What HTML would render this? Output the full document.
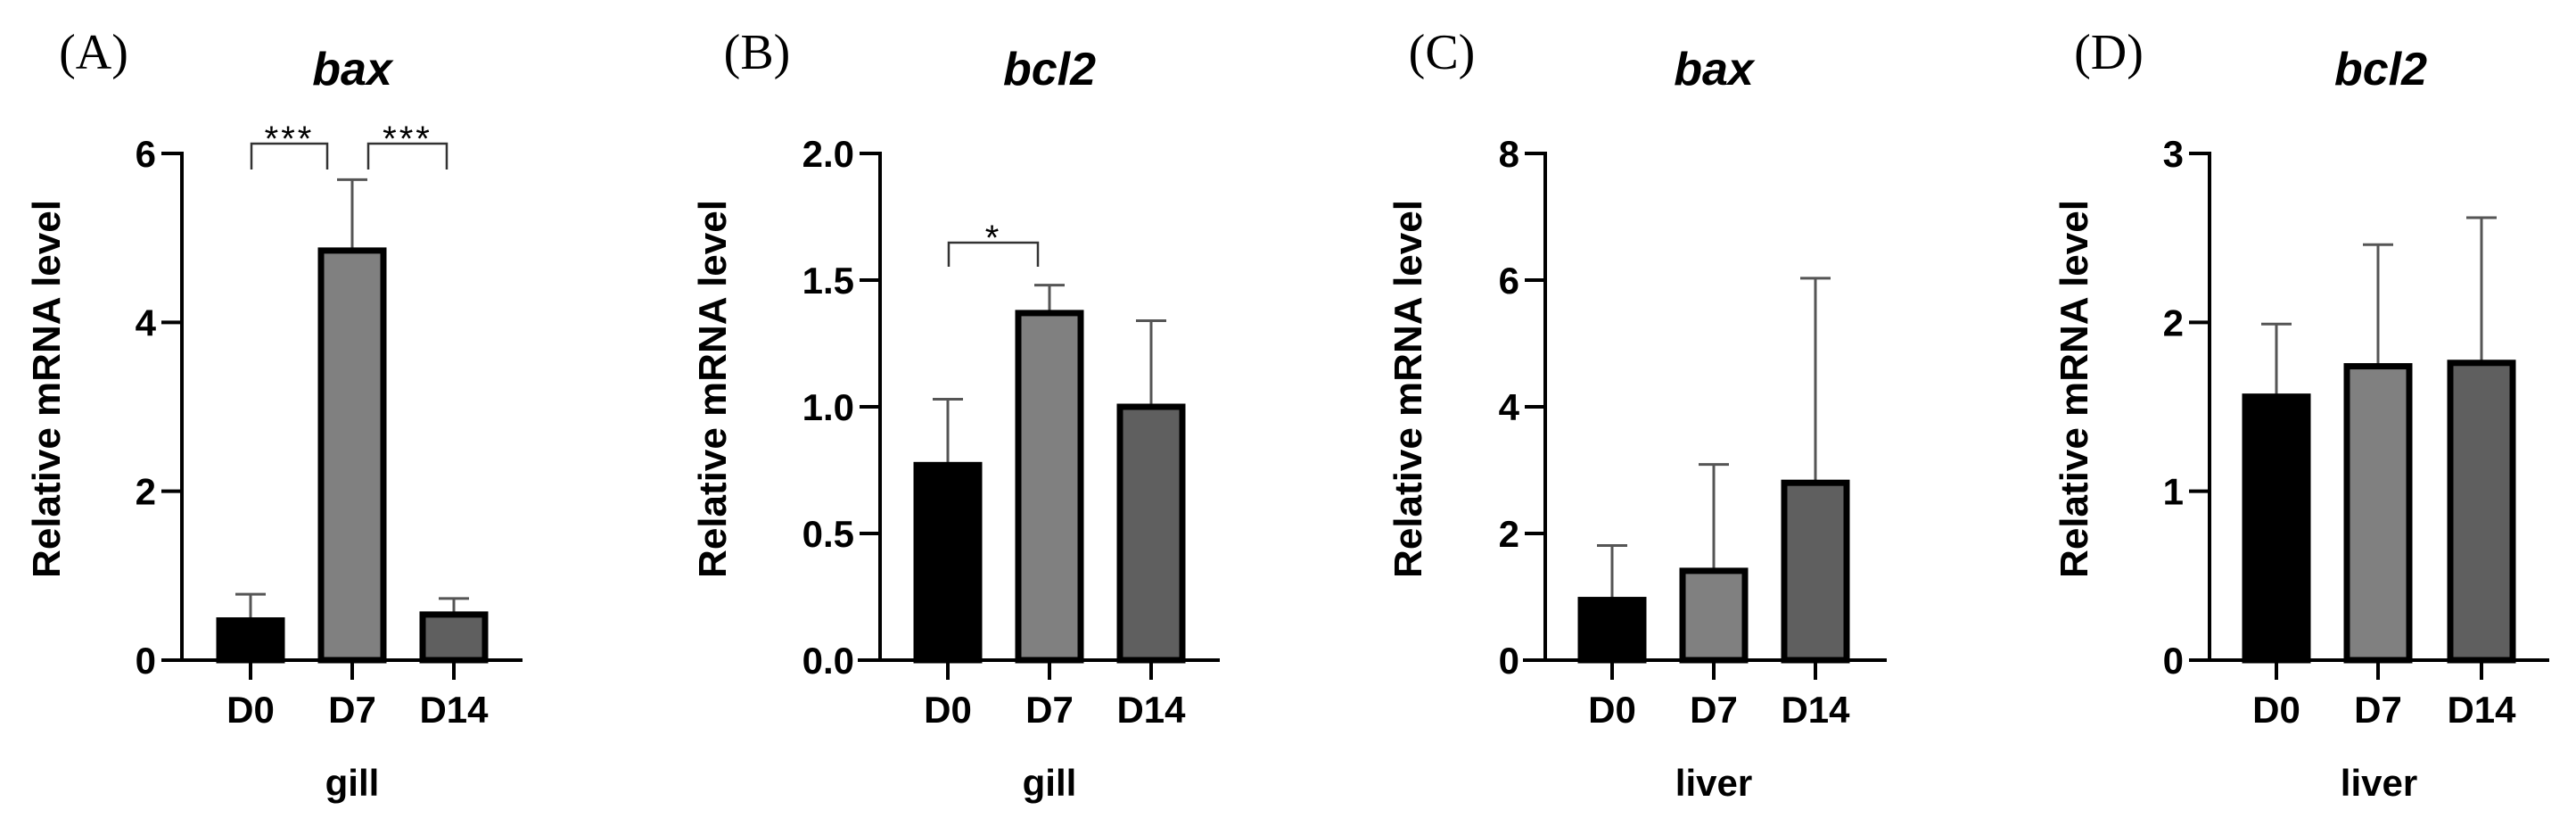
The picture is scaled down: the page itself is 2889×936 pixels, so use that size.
<!DOCTYPE html>
<html><head><meta charset="utf-8">
<style>
html,body{margin:0;padding:0;background:#fff;}
svg{display:block;}
text{font-family:"Liberation Sans",Arial,sans-serif;fill:#000;}
</style></head>
<body>
<svg id="fig" width="2889" height="936" xmlns="http://www.w3.org/2000/svg"></svg>
<script>
const categories = ["D0","D7","D14"];
const gillBaxMeans = [0.47, 4.85, 0.54];
const gillBaxErr = [0.78, 5.69, 0.73];
const gillBcl2Means = [0.77, 1.37, 1.00];
const gillBcl2Err = [1.03, 1.48, 1.34];
const liverBaxMeans = [0.95, 1.41, 2.80];
const liverBaxErr = [1.81, 3.09, 6.03];
const liverBcl2Means = [1.56, 1.74, 1.76];
const liverBcl2Err = [1.99, 2.46, 2.62];
const ticksA = [0,2,4,6];
const ticksB = ["0.0","0.5","1.0","1.5","2.0"];
const ticksC = [0,2,4,6,8];
const ticksD = [0,1,2,3];

const NS = "http://www.w3.org/2000/svg";
const svg = document.getElementById("fig");
const fills = ["#000000","#808080","#5f5f5f"];
function el(tag, attrs, parent){
  const e = document.createElementNS(NS, tag);
  for (const k in attrs) e.setAttribute(k, attrs[k]);
  (parent||svg).appendChild(e);
  return e;
}
function txt(str, x, y, size, opts, parent){
  const t = el("text", {x:x, y:y, "font-size":size,
    "text-anchor":opts.anchor||"middle", "font-weight":opts.weight||"bold"}, parent);
  if (opts.style) t.setAttribute("font-style", opts.style);
  if (opts.family) t.setAttribute("style", "font-family:" + opts.family);
  t.textContent = str;
  return t;
}
const TOP = 172, ZERO = 740;
const panels = [
  {id:"a", letter:"(A)", lx:105, title:"bax", tx:395, tissue:"gill", axisX:204, x0:182, x1:586, centers:[281,395,509], ymax:6, ticks:ticksA, means:gillBaxMeans, errs:gillBaxErr, ytx:51,
   sig:[{a:282,b:367,top:161,bot:190,label:"***"},{a:413,b:501,top:161,bot:190,label:"***"}]},
  {id:"b", letter:"(B)", lx:849, title:"bcl2", tx:1177, tissue:"gill", axisX:987, x0:962, x1:1368, centers:[1063,1177,1291], ymax:2, ticks:ticksB, means:gillBcl2Means, errs:gillBcl2Err, ytx:798,
   sig:[{a:1064,b:1164,top:272,bot:299,label:"*"}]},
  {id:"c", letter:"(C)", lx:1617, title:"bax", tx:1922, tissue:"liver", axisX:1733, x0:1708, x1:2116, centers:[1808,1922,2036], ymax:8, ticks:ticksC, means:liverBaxMeans, errs:liverBaxErr, ytx:1578, sig:[]},
  {id:"d", letter:"(D)", lx:2365, title:"bcl2", tx:2670, tissue:"liver", axisX:2478, x0:2455, x1:2859, centers:[2553,2667,2783], ymax:3, ticks:ticksD, means:liverBcl2Means, errs:liverBcl2Err, ytx:2325, sig:[]}
];
panels.forEach(p=>{
  const g = el("g", {});
  
  
  const y = v => ZERO - (parseFloat(v)/p.ymax)*(ZERO-TOP);
  const lab = txt(p.letter, p.lx, 77, 56, {weight:"normal", family:'"Liberation Serif",serif'}, g);
  
  
  const ti = txt(p.title, p.tx, 95, 52, {style:"italic"}, g);
  
  
  const yt = el("text", {transform:`translate(${p.ytx+16},436) rotate(-90)`, "font-size":44, "font-weight":"bold", "text-anchor":"middle"}, g);
  yt.textContent = "Relative mRNA level";
  
  
  p.means.forEach((m,i)=>{
    const cx = p.centers[i], w = 70;
    const et = y(p.errs[i]);
    const eb = el("path", {d:`M${cx},${y(m)} V${et} M${cx-17},${et} H${cx+17}`, stroke:"#555", "stroke-width":3, fill:"none"}, g);
    
    
    const r = el("rect", {x:cx-w/2, y:y(m), width:w, height:ZERO-y(m), fill:fills[i], stroke:"#000", "stroke-width":7}, g);
    
    
    const tk = el("line", {x1:cx, x2:cx, y1:ZERO, y2:ZERO+22, stroke:"#000", "stroke-width":4}, g);
    
    
    const cl = txt(categories[i], cx, 810, 42, {}, g);
    
    
  });
  const ya = el("line", {x1:p.axisX, x2:p.axisX, y1:TOP-2, y2:ZERO+2, stroke:"#000", "stroke-width":4}, g);
  
  
  const xa = el("line", {x1:p.x0, x2:p.x1, y1:ZERO, y2:ZERO, stroke:"#000", "stroke-width":4}, g);
  
  
  p.ticks.forEach(t=>{
    const ty = y(t);
    const tl = el("line", {x1:p.axisX-23, x2:p.axisX, y1:ty, y2:ty, stroke:"#000", "stroke-width":4}, g);
    
    
    const tt = txt(String(t), p.axisX-29, ty+15, 42, {anchor:"end"}, g);
    
    
  });
  const xt = txt(p.tissue, (p.centers[0]+p.centers[2])/2, 892, 42, {}, g);
  
  
  p.sig.forEach(s=>{
    const br = el("path", {d:`M${s.a},${s.bot} V${s.top} H${s.b} V${s.bot}`, stroke:"#333", "stroke-width":2.5, fill:"none"}, g);
    
    
    const st = txt(s.label, (s.a+s.b)/2, s.top+8, 40, {weight:"normal"}, g);
    st.setAttribute('letter-spacing', '3');
    
    
  });
});
</script>
</body></html>
